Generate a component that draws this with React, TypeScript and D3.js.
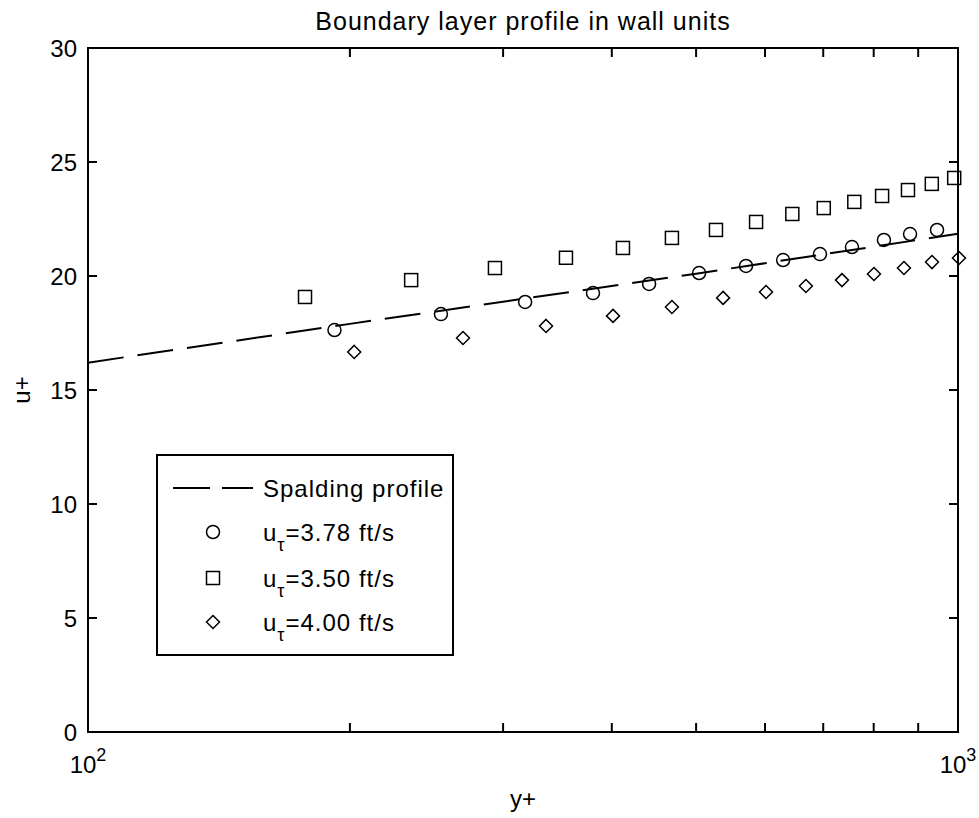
import React from "react";
import * as d3 from "d3";

const spaldingX = [100, 200, 500, 1000];
const spaldingY = [16.2, 17.9, 20.1, 21.85];

const circX = [192, 254.5, 318, 380.6, 441.5, 504, 570.6, 629.5, 694, 755.3, 822, 880.8, 946];
const circY = [17.63, 18.33, 18.86, 19.25, 19.65, 20.13, 20.44, 20.7, 20.96, 21.27, 21.58, 21.84, 22.02];

const sqX = [177.6, 235.2, 293.6, 354.3, 412, 469, 527, 586, 645, 701, 760, 818, 876, 933, 990];
const sqY = [19.08, 19.82, 20.35, 20.8, 21.23, 21.67, 22.02, 22.37, 22.72, 22.98, 23.25, 23.51, 23.77, 24.04, 24.3];

const diaX = [202.3, 269.8, 336.1, 401.3, 469, 537, 601.6, 668.6, 735.6, 800.6, 866.7, 933.5, 1002.6];
const diaY = [16.67, 17.28, 17.81, 18.25, 18.64, 19.04, 19.3, 19.56, 19.82, 20.09, 20.35, 20.61, 20.79];

const yTicks = [0, 5, 10, 15, 20, 25, 30];
const xMinorTicks = [200, 300, 400, 500, 600, 700, 800, 900];
const xMajorTicks = [{ v: 100, exp: "2" }, { v: 1000, exp: "3" }];

const legendItems = [
  { kind: "line", label: "Spalding profile" },
  { kind: "circle", sub: "τ", label: "=3.78 ft/s" },
  { kind: "square", sub: "τ", label: "=3.50 ft/s" },
  { kind: "diamond", sub: "τ", label: "=4.00 ft/s" },
];

const W = 979, H = 818;
const L = 88, R = 958, T = 48, B = 732;
const FONT = "'Liberation Sans', Arial, sans-serif";

function Marker({ kind, x, y }: { kind: string; x: number; y: number }) {
  const s = 6.5;
  if (kind === "circle") return <circle cx={x} cy={y} r={s} fill="none" stroke="#000" strokeWidth={1.5} />;
  if (kind === "square") return <rect x={x - s} y={y - s} width={2 * s} height={2 * s} fill="none" stroke="#000" strokeWidth={1.5} />;
  return <path d={`M${x},${y - s}L${x + s},${y}L${x},${y + s}L${x - s},${y}Z`} fill="none" stroke="#000" strokeWidth={1.5} />;
}

export default function App() {
  const x = d3.scaleLog().domain([100, 1000]).range([L, R]);
  const y = d3.scaleLinear().domain([0, 30]).range([B, T]);
  const line = d3.line<number>().x((d) => x(spaldingX[d])).y((d) => y(spaldingY[d]));
  const tick = 9;

  const lgX = 157, lgY = 455, lgW = 296, lgH = 200;
  const rowY = [488, 532, 578, 622];

  return (
    <svg width={W} height={H} style={{ position: "absolute", left: 0, top: 0, background: "#fff" }} fontFamily={FONT}>
      <rect x={0} y={0} width={W} height={H} fill="#fff" />
      <text x={(L + R) / 2} y={30} fontSize={25} letterSpacing={1} textAnchor="middle">Boundary layer profile in wall units</text>

      {/* spalding line */}
      <path d={line(spaldingX.map((_, i) => i)) || ""} fill="none" stroke="#000" strokeWidth={2} strokeDasharray="36,14" />

      {circX.map((v, i) => <Marker key={"c" + i} kind="circle" x={x(v)} y={y(circY[i])} />)}
      {sqX.map((v, i) => <Marker key={"s" + i} kind="square" x={x(v)} y={y(sqY[i])} />)}
      {diaX.map((v, i) => <Marker key={"d" + i} kind="diamond" x={x(v)} y={y(diaY[i])} />)}

      {/* axes box */}
      <rect x={L} y={T} width={R - L} height={B - T} fill="none" stroke="#000" strokeWidth={2} />
      {yTicks.map((t) => (
        <g key={"y" + t}>
          <line x1={L} x2={L + tick} y1={y(t)} y2={y(t)} stroke="#000" strokeWidth={2} />
          <line x1={R} x2={R - tick} y1={y(t)} y2={y(t)} stroke="#000" strokeWidth={2} />
          <text x={L - 11} y={y(t) + 9} fontSize={24} textAnchor="end">{t}</text>
        </g>
      ))}
      {xMinorTicks.map((t) => (
        <g key={"x" + t}>
          <line x1={x(t)} x2={x(t)} y1={B} y2={B - tick} stroke="#000" strokeWidth={2} />
          <line x1={x(t)} x2={x(t)} y1={T} y2={T + tick} stroke="#000" strokeWidth={2} />
        </g>
      ))}
      {xMajorTicks.map((t) => (
        <text key={"xm" + t.v} x={x(t.v)} y={773} fontSize={24} textAnchor="middle">
          10<tspan dy={-12} fontSize={18}>{t.exp}</tspan>
        </text>
      ))}
      <text x={(L + R) / 2} y={807} fontSize={24} textAnchor="middle">y+</text>
      <text transform={`translate(30,${(T + B) / 2}) rotate(-90)`} fontSize={24} textAnchor="middle">u+</text>

      {/* legend */}
      <rect x={lgX} y={lgY} width={lgW} height={lgH} fill="#fff" stroke="#000" strokeWidth={2} />
      {legendItems.map((it, i) => (
        <g key={"lg" + i}>
          {it.kind === "line" ? (
            <line x1={173} x2={253} y1={rowY[i]} y2={rowY[i]} stroke="#000" strokeWidth={2} strokeDasharray="37,12" />
          ) : (
            <Marker kind={it.kind} x={213} y={rowY[i]} />
          )}
          <text x={263} y={rowY[i] + 9} fontSize={24} letterSpacing={1}>
            {it.sub ? (
              <>
                u<tspan dy={10} fontSize={18}>{it.sub}</tspan>
                <tspan dy={-10}>{it.label}</tspan>
              </>
            ) : (
              it.label
            )}
          </text>
        </g>
      ))}
    </svg>
  );
}
